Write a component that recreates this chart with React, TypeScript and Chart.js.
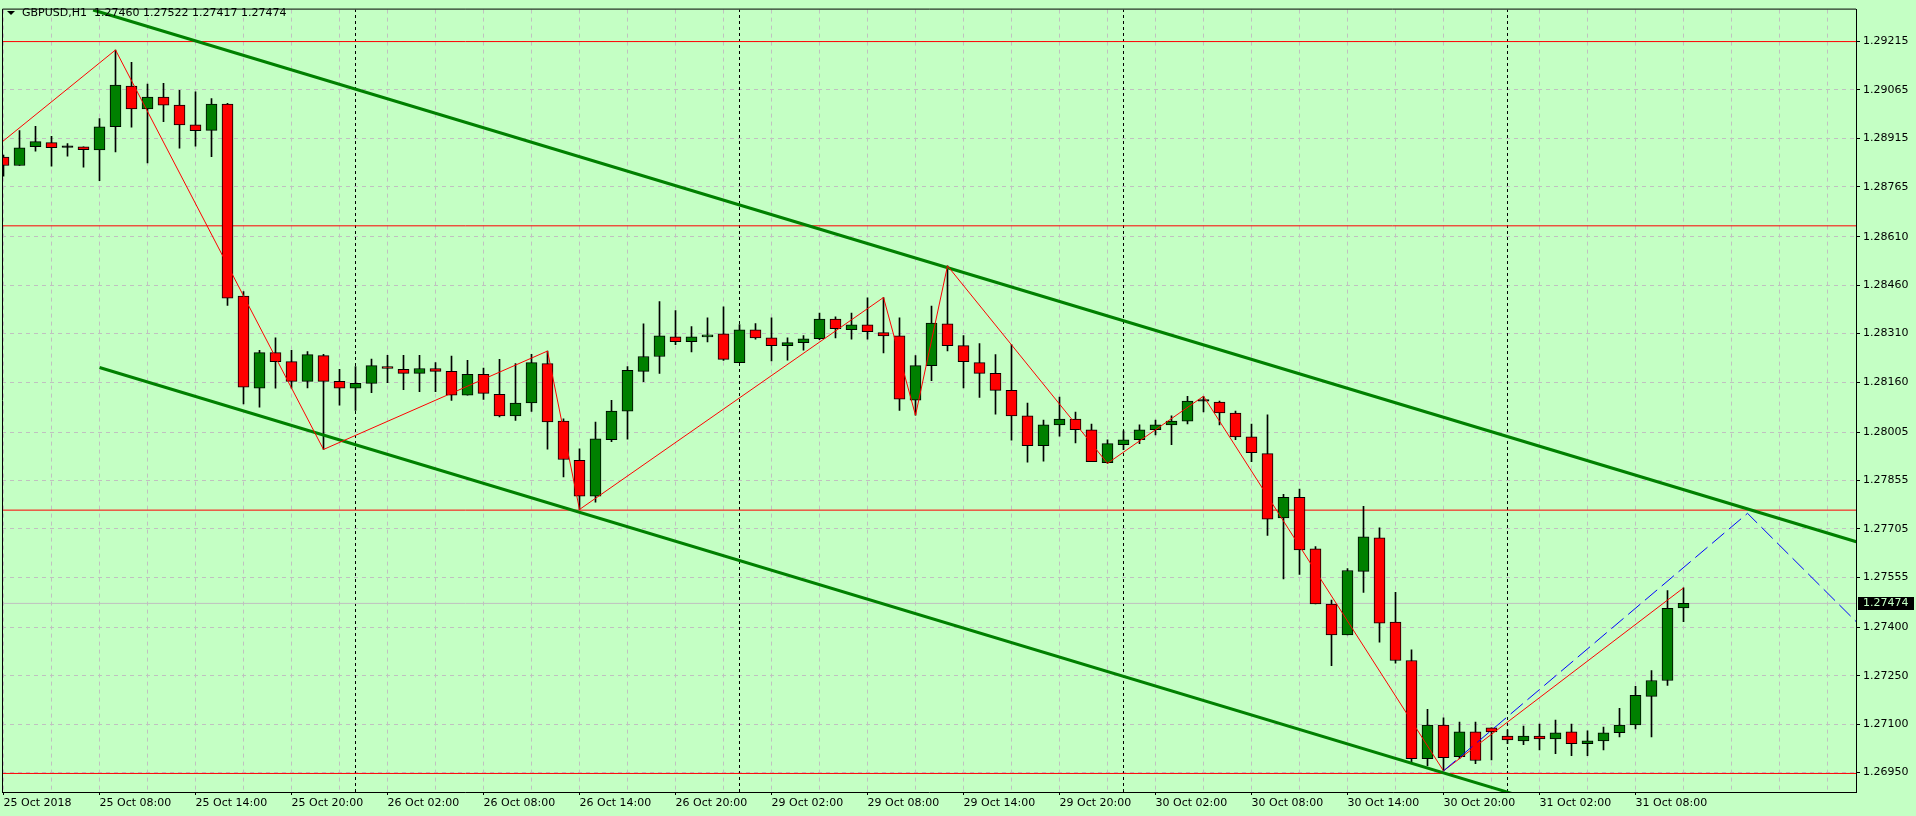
import React, { useEffect, useRef } from 'react';
import { Chart, registerables } from 'chart.js';

Chart.register(...registerables);

// ---------- data ----------
const symbolLabel = 'GBPUSD,H1';

const timeLabels = [
  '25 Oct 2018', '25 Oct 08:00', '25 Oct 14:00', '25 Oct 20:00',
  '26 Oct 02:00', '26 Oct 08:00', '26 Oct 14:00', '26 Oct 20:00',
  '29 Oct 02:00', '29 Oct 08:00', '29 Oct 14:00', '29 Oct 20:00',
  '30 Oct 02:00', '30 Oct 08:00', '30 Oct 14:00', '30 Oct 20:00',
  '31 Oct 02:00', '31 Oct 08:00',
];

const priceTickLabels = [
  '1.29215', '1.29065', '1.28915', '1.28765', '1.28610', '1.28460', '1.28310', '1.28160',
  '1.28005', '1.27855', '1.27705', '1.27555', '1.27400', '1.27250', '1.27100', '1.26950',
];

const opens = [
  1.28857, 1.28831, 1.28889, 1.28902, 1.28887, 1.28889, 1.28879, 1.28951, 1.29077, 1.29006,
  1.29043, 1.29018, 1.28957, 1.28940, 1.29021, 1.28426, 1.28141, 1.28251, 1.28223, 1.28162,
  1.28242, 1.28162, 1.28141, 1.28156, 1.28208, 1.28199, 1.28187, 1.28202, 1.28193, 1.28119,
  1.28184, 1.28122, 1.28055, 1.28095, 1.28217, 1.28039, 1.27917, 1.27806, 1.27981, 1.28070,
  1.28193, 1.28239, 1.28300, 1.28285, 1.28300, 1.28309, 1.28220, 1.28322, 1.28297, 1.28273,
  1.28282, 1.28294, 1.28355, 1.28322, 1.28337, 1.28313, 1.28303, 1.28104, 1.28211, 1.28340,
  1.28273, 1.28220, 1.28187, 1.28134, 1.28055, 1.27963, 1.28027, 1.28045, 1.28012, 1.27910,
  1.27966, 1.27981, 1.28012, 1.28027, 1.28039, 1.28101, 1.28098, 1.28064, 1.27990, 1.27938,
  1.27739, 1.27803, 1.27643, 1.27472, 1.27376, 1.27573, 1.27677, 1.27416, 1.27297, 1.26993,
  1.27097, 1.26999, 1.27076, 1.27088, 1.27063, 1.27048, 1.27063, 1.27054, 1.27076, 1.27039,
  1.27048, 1.27073, 1.27097, 1.27186, 1.27235, 1.27460,
];
const highs = [
  1.28863, 1.28939, 1.28952, 1.28921, 1.28899, 1.28889, 1.28976, 1.29189, 1.29151, 1.29083,
  1.29086, 1.29064, 1.29059, 1.29038, 1.29024, 1.28440, 1.28258, 1.28297, 1.28258, 1.28254,
  1.28246, 1.28199, 1.28208, 1.28231, 1.28243, 1.28243, 1.28243, 1.28220, 1.28240, 1.28227,
  1.28203, 1.28230, 1.28217, 1.28246, 1.28256, 1.28046, 1.27953, 1.28036, 1.28103, 1.28208,
  1.28340, 1.28409, 1.28381, 1.28332, 1.28359, 1.28393, 1.28338, 1.28341, 1.28359, 1.28297,
  1.28304, 1.28374, 1.28362, 1.28374, 1.28421, 1.28422, 1.28359, 1.28242, 1.28395, 1.28520,
  1.28304, 1.28279, 1.28245, 1.28276, 1.28095, 1.28042, 1.28113, 1.28067, 1.28030, 1.27981,
  1.28009, 1.28027, 1.28042, 1.28055, 1.28116, 1.28116, 1.28101, 1.28070, 1.28030, 1.28058,
  1.27812, 1.27828, 1.27650, 1.27484, 1.27582, 1.27775, 1.27708, 1.27508, 1.27330, 1.27146,
  1.27119, 1.27106, 1.27106, 1.27088, 1.27082, 1.27094, 1.27100, 1.27112, 1.27100, 1.27079,
  1.27091, 1.27149, 1.27217, 1.27266, 1.27514, 1.27522,
];
const lows = [
  1.28798, 1.28831, 1.28875, 1.28829, 1.28860, 1.28826, 1.28784, 1.28873, 1.28950, 1.28839,
  1.28967, 1.28885, 1.28891, 1.28858, 1.28397, 1.28092, 1.28082, 1.28141, 1.28141, 1.28142,
  1.27951, 1.28088, 1.28072, 1.28127, 1.28158, 1.28136, 1.28130, 1.28130, 1.28103, 1.28119,
  1.28106, 1.28052, 1.28041, 1.28069, 1.27952, 1.27866, 1.27765, 1.27788, 1.27975, 1.27983,
  1.28161, 1.28187, 1.28276, 1.28253, 1.28284, 1.28227, 1.28220, 1.28293, 1.28225, 1.28228,
  1.28259, 1.28291, 1.28297, 1.28293, 1.28293, 1.28250, 1.28072, 1.28057, 1.28164, 1.28256,
  1.28142, 1.28112, 1.28060, 1.27980, 1.27912, 1.27915, 1.27992, 1.27971, 1.27913, 1.27908,
  1.27950, 1.27969, 1.27996, 1.27966, 1.28030, 1.28067, 1.28027, 1.27981, 1.27913, 1.27685,
  1.27550, 1.27564, 1.27472, 1.27281, 1.27376, 1.27508, 1.27354, 1.27289, 1.26977, 1.26970,
  1.26955, 1.26993, 1.26977, 1.26989, 1.27039, 1.27036, 1.27020, 1.27008, 1.27002, 1.27002,
  1.27020, 1.27060, 1.27085, 1.27060, 1.27220, 1.27417,
];
const closes = [
  1.28831, 1.28886, 1.28905, 1.28886, 1.28887, 1.28880, 1.28951, 1.29080, 1.29006, 1.29043,
  1.29018, 1.28957, 1.28939, 1.29021, 1.28420, 1.28144, 1.28251, 1.28223, 1.28162, 1.28245,
  1.28162, 1.28141, 1.28156, 1.28211, 1.28202, 1.28187, 1.28202, 1.28193, 1.28119, 1.28184,
  1.28125, 1.28055, 1.28095, 1.28220, 1.28036, 1.27920, 1.27806, 1.27984, 1.28070, 1.28196,
  1.28239, 1.28303, 1.28285, 1.28300, 1.28306, 1.28230, 1.28322, 1.28297, 1.28273, 1.28282,
  1.28294, 1.28355, 1.28325, 1.28337, 1.28316, 1.28303, 1.28107, 1.28211, 1.28343, 1.28273,
  1.28223, 1.28187, 1.28134, 1.28055, 1.27963, 1.28027, 1.28045, 1.28012, 1.27913, 1.27969,
  1.27981, 1.28012, 1.28027, 1.28039, 1.28101, 1.28101, 1.28064, 1.27990, 1.27941, 1.27735,
  1.27803, 1.27640, 1.27472, 1.27376, 1.27576, 1.27680, 1.27413, 1.27297, 1.26993, 1.27097,
  1.26996, 1.27076, 1.26987, 1.27076, 1.27051, 1.27063, 1.27054, 1.27073, 1.27039, 1.27048,
  1.27073, 1.27097, 1.27189, 1.27235, 1.27459, 1.27474,
];

// day separators (bar index of each new day)
const daySeparators = [22, 46, 70, 94];

// horizontal level lines (red)
const levelPrices = [1.29215, 1.28644, 1.27763, 1.26947];

// ZigZag (red thin)
const zigzagIdx = [-0.04, 7, 20, 34, 36, 55, 57, 59, 69, 75, 90, 105];
const zigzagPrice = [1.28906, 1.29189, 1.27951, 1.28256, 1.27765, 1.28422, 1.28057, 1.28520, 1.27908, 1.28116, 1.26955, 1.27522];

// channel (green thick)
const channelUpperIdx = [5.6, 115.8];
const channelUpperPrice = [1.29313, 1.27665];
const channelLowerIdx = [6, 96];
const channelLowerPrice = [1.28205, 1.26859];

// projection (blue dashed)
const projectionIdx = [90, 109, 115.8];
const projectionPrice = [1.26955, 1.27753, 1.27417];

// ---------- style ----------
const BG = '#c4ffc4';
const BULL = '#008000';
const BEAR = '#ff0000';
const GRID = '#c0c0c0';
const FONT = '"DejaVu Sans", "Liberation Sans", sans-serif';

const X_MIN = -0.09375;
const X_MAX = 115.78125;
const Y_MIN = 1.268895;
const Y_MAX = 1.293141;

const fmt = (v: number) => v.toFixed(5);

export default function App() {
  const ref = useRef<HTMLCanvasElement>(null);

  useEffect(() => {
    document.body.style.margin = '0';
    const canvas = ref.current;
    if (!canvas) return;

    const n = closes.length;
    const last = n - 1;

    const pts = (xs: number[], ys: number[]) => xs.map((x, i) => ({ x, y: ys[i] }));

    const datasets: any[] = [];

    // day separators
    daySeparators.forEach((d) => {
      datasets.push({
        type: 'line',
        data: [{ x: d, y: Y_MIN }, { x: d, y: Y_MAX }],
        borderColor: '#000000',
        borderWidth: 1,
        borderDash: [3, 3],
        pointRadius: 0,
        clip: 0,
        order: 20,
      });
    });

    // level lines
    levelPrices.forEach((p) => {
      datasets.push({
        type: 'line',
        data: [{ x: X_MIN, y: p }, { x: X_MAX, y: p }],
        borderColor: '#ff0000',
        borderWidth: 1,
        pointRadius: 0,
        clip: 0,
        order: 19,
      });
    });

    // bid line
    datasets.push({
      type: 'line',
      data: [{ x: X_MIN, y: closes[last] }, { x: X_MAX, y: closes[last] }],
      borderColor: '#c0c0c0',
      borderWidth: 1,
      pointRadius: 0,
      clip: 0,
      order: 18,
    });

    // wicks
    datasets.push({
      type: 'bar',
      data: closes.map((_, i) => ({ x: i, y: [lows[i], highs[i]] })),
      backgroundColor: '#000000',
      borderWidth: 0,
      barThickness: 1,
      grouped: false,
      clip: 0,
      order: 15,
    });

    // bodies
    datasets.push({
      type: 'bar',
      data: closes.map((c, i) => ({ x: i, y: [opens[i], c] })),
      backgroundColor: (ctx: any) => {
        const i = ctx.dataIndex;
        if (i === undefined) return BULL;
        if (closes[i] > opens[i]) return BULL;
        if (closes[i] < opens[i]) return BEAR;
        return '#000000';
      },
      borderColor: '#000000',
      borderWidth: 1,
      borderSkipped: false,
      barThickness: 11,
      minBarLength: 1.5,
      grouped: false,
      clip: 0,
      order: 14,
    });

    // channel lines
    datasets.push({
      type: 'line',
      data: pts(channelUpperIdx, channelUpperPrice),
      borderColor: BULL,
      borderWidth: 3,
      pointRadius: 0,
      clip: 0,
      order: 6,
    });
    datasets.push({
      type: 'line',
      data: pts(channelLowerIdx, channelLowerPrice),
      borderColor: BULL,
      borderWidth: 3,
      pointRadius: 0,
      clip: 0,
      order: 6,
    });

    // zigzag
    datasets.push({
      type: 'line',
      data: pts(zigzagIdx, zigzagPrice),
      borderColor: '#ff0000',
      borderWidth: 1,
      pointRadius: 0,
      tension: 0,
      clip: 0,
      order: 5,
    });

    // projection
    datasets.push({
      type: 'line',
      data: pts(projectionIdx, projectionPrice),
      borderColor: '#0000ff',
      borderWidth: 1,
      borderDash: [16, 6],
      pointRadius: 0,
      tension: 0,
      clip: 0,
      order: 4,
    });

    const xTicks: number[] = [];
    for (let v = 0; v <= X_MAX; v += 3) xTicks.push(v);

    const decorPlugin = {
      id: 'decor',
      beforeDraw(chart: any) {
        const c = chart.ctx;
        c.save();
        c.fillStyle = BG;
        c.fillRect(0, 0, chart.width, chart.height);
        c.restore();
      },
      afterDraw(chart: any) {
        const c = chart.ctx;
        const a = chart.chartArea;
        const ys = chart.scales.y;
        c.save();
        // frame
        c.strokeStyle = '#000000';
        c.lineWidth = 1;
        c.beginPath();
        c.moveTo(a.left + 0.5, a.bottom);
        c.lineTo(a.left + 0.5, a.top - 0.5);
        c.lineTo(a.right, a.top - 0.5);
        c.stroke();

        // header
        c.fillStyle = '#000000';
        c.beginPath();
        c.moveTo(7, 11);
        c.lineTo(15, 11);
        c.lineTo(11, 15);
        c.closePath();
        c.fill();
        c.font = '11px ' + FONT;
        c.textBaseline = 'middle';
        c.textAlign = 'left';
        c.fillText(symbolLabel, 22, 13);
        c.fillText(
          [opens[last], highs[last], lows[last], closes[last]].map(fmt).join(' '),
          94,
          13,
        );

        // bid label
        const py = ys.getPixelForValue(closes[last]);
        c.fillStyle = '#000000';
        c.fillRect(a.right + 2, Math.round(py) - 6, 56, 13);
        c.fillStyle = BG;
        c.fillText(fmt(closes[last]), a.right + 7, Math.round(py) + 0.5);
        c.restore();
      },
    };

    const chart = new Chart(canvas, {
      type: 'bar',
      data: { datasets },
      plugins: [decorPlugin],
      options: {
        animation: false,
        responsive: false,
        devicePixelRatio: 1,
        events: [],
        layout: { padding: { left: 2, top: 2, right: 0, bottom: 0 } },
        plugins: {
          legend: { display: false },
          tooltip: { enabled: false },
          title: { display: false },
        },
        scales: {
          x: {
            type: 'linear',
            min: X_MIN,
            max: X_MAX,
            offset: false,
            afterBuildTicks: (scale: any) => {
              scale.ticks = xTicks.map((v) => ({ value: v }));
            },
            afterFit: (scale: any) => {
              scale.height = 24;
            },
            grid: {
              offset: false,
              color: GRID,
              lineWidth: 1,
              drawTicks: true,
              tickLength: 3,
              tickColor: (ctx: any) => {
                const v = ctx.tick ? ctx.tick.value : -1;
                return v % 6 === 0 && timeLabels[v / 6] ? '#000000' : 'rgba(0,0,0,0)';
              },
            },
            border: { display: true, color: '#000000', width: 1, dash: [4, 4] },
            ticks: {
              autoSkip: false,
              maxRotation: 0,
              minRotation: 0,
              align: 'start',
              padding: 2,
              color: '#000000',
              font: { family: FONT, size: 11 },
              callback: (value: any) => {
                const v = Number(value);
                return v % 6 === 0 ? timeLabels[v / 6] || '' : '';
              },
            },
          },
          y: {
            type: 'linear',
            position: 'right',
            min: Y_MIN,
            max: Y_MAX,
            afterBuildTicks: (scale: any) => {
              scale.ticks = priceTickLabels.map((s) => ({ value: parseFloat(s) }));
            },
            afterFit: (scale: any) => {
              scale.width = 60;
            },
            grid: {
              color: GRID,
              lineWidth: 1,
              drawTicks: true,
              tickLength: 4,
              tickColor: '#000000',
            },
            border: { display: true, color: '#000000', width: 1, dash: [4, 4] },
            ticks: {
              autoSkip: false,
              padding: 3,
              color: '#000000',
              font: { family: FONT, size: 11 },
              callback: (value: any) => Number(value).toFixed(5),
            },
          },
        },
      } as any,
    });

    return () => chart.destroy();
  }, []);

  return (
    <div style={{ position: 'fixed', left: 0, top: 0, width: 1916, height: 816, background: BG }}>
      <canvas ref={ref} width={1916} height={816} style={{ display: 'block', width: 1916, height: 816 }} />
    </div>
  );
}
